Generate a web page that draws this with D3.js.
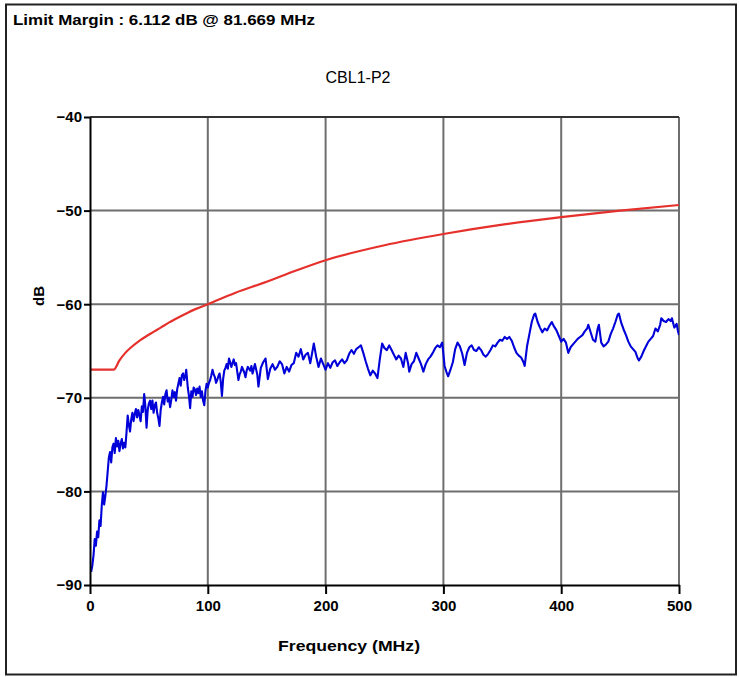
<!DOCTYPE html>
<html>
<head>
<meta charset="utf-8">
<script src="https://cdn.jsdelivr.net/npm/d3@7/dist/d3.min.js"></script>
<style>
  body { margin: 0; background: #fff; }
  svg { display: block; font-family: "Liberation Sans", Arial, sans-serif; }
</style>
</head>
<body>
<script>
const headerText = "Limit Margin : 6.112 dB @ 81.669 MHz"
const chartTitle = "CBL1-P2"
const xLabel = "Frequency (MHz)"
const yLabel = "dB"

const xTicks = [0, 100, 200, 300, 400, 500]
const yTicks = [-40, -50, -60, -70, -80, -90]

// limit line [MHz, dB]
const limitData = [[0,-67],[20,-67],[25,-66],[30,-65.2],[35,-64.6],[41,-64],[52,-63.1],[60,-62.5],[66.5,-62.0],
  [80,-61.1],[90,-60.5],[100,-60],[123,-58.8],[150,-57.6],[175,-56.4],[200,-55.3],[250,-53.7],[300,-52.5],
  [350,-51.5],[400,-50.7],[450,-50],[500,-49.4]]

// measured trace [MHz, dB]
const traceData = [[1,-88.6],[2,-87.9],[3,-86.8],[4,-85.1],[5,-85.8],[6,-84.3],[7,-84.9],[8,-83.1],[9,-83.7],[10,-81.5],
  [11,-80.1],[12,-81.4],[13,-80.5],[14,-79.4],[15,-77.9],[16,-76.4],[17,-75.8],[18,-76.9],[19,-75.3],[20,-74.9],
  [21,-75.9],[22,-74.3],[23,-75.2],[24,-74.6],[25,-75.7],[26,-74.9],[27,-74.4],[28,-75.4],[29,-74.8],[30,-75.3],
  [31,-73.7],[32,-71.9],[33,-72.9],[34,-73.6],[35,-72.3],[36,-71.6],[37,-72.5],[38,-71.7],[39,-71.2],[40,-72.1],
  [41,-71.3],[42,-71.9],[43,-72.5],[44,-70.9],[45,-71.5],[46,-69.6],[47,-70.9],[48,-73.2],[49,-71.3],[50,-70.6],
  [51,-70.3],[52,-71.2],[53,-70.3],[54,-71.6],[55,-70.8],[56,-70.5],[57,-71.6],[58,-72.2],[59,-73.0],[60,-71.3],
  [61,-70.5],[62,-69.9],[63,-70.7],[64,-69.6],[65,-69.2],[66,-70.4],[67,-70.0],[68,-71.0],[69,-70.2],[70,-69.2],
  [71,-69.9],[72,-69.4],[73,-70.3],[74,-69.1],[75,-68.5],[76,-67.9],[77,-68.7],[78,-67.6],[79,-67.4],[80,-68.1],
  [81,-67.6],[81.7,-67.0],[83,-68.9],[84,-69.8],[85,-71.1],[86,-69.3],[87,-69.9],[88,-68.9],[89,-69.1],[90,-69.7],
  [91,-69.0],[92,-69.5],[93,-68.8],[94,-69.9],[95,-69.3],[96,-70.3],[97,-70.8],[98,-69.3],[99,-68.5],
  [100,-68.9],[101,-68.4],[102,-68.1],[103,-67.6],[104,-67.0],[105,-67.5],[106,-67.8],[107,-68.4],[108,-68.1],[109,-67.7],
  [110,-67.4],[111,-68.3],[112,-69.8],[113,-68.0],[114,-67.1],[115,-66.8],[116,-66.4],[117,-66.9],[118,-65.8],[119,-66.2],
  [120,-66.7],[121,-66.3],[122,-65.9],[123,-66.5],[124,-66.3],[125,-67.2],[126,-68.1],[127,-67.5],[128,-67.2],[129,-66.7],
  [130,-67.0],[131,-67.3],[132,-67.8],[133,-67.1],[134,-66.7],[135,-66.9],[136,-67.1],[137,-66.6],[138,-67.4],[139,-66.9],
  [140,-66.4],[142,-67.5],[143,-68.8],[145,-66.8],[147,-66.2],[149,-65.8],[151,-68.0],[153,-66.9],[155,-66.4],[157,-67.0],
  [159,-66.7],[161,-66.1],[163,-66.4],[165,-67.4],[167,-66.7],[169,-67.2],[171,-66.5],[173,-66.3],[175,-65.2],[177,-65.6],
  [179,-64.8],[181,-65.9],[183,-65.4],[185,-65.2],[187,-66.3],[189,-64.9],[190,-64.2],[192,-65.6],[194,-66.7],[196,-65.8],
  [198,-66.4],[200,-67.0],[202,-66.3],[204,-66.8],[206,-66.2],[208,-66.0],[210,-66.6],[212,-66.2],[214,-65.9],[216,-66.3],
  [218,-66.0],[220,-65.3],[222,-64.9],[224,-65.3],[226,-64.8],[228,-64.6],[230,-64.4],[232,-65.2],[234,-66.1],[236,-66.9],
  [238,-67.6],[240,-67.1],[242,-67.4],[244,-67.9],[246,-65.9],[248,-64.2],[250,-64.7],[252,-64.9],[254,-64.4],[256,-64.9],
  [258,-65.4],[260,-65.9],[262,-65.5],[264,-65.8],[266,-66.7],[268,-65.2],[270,-66.3],[271,-67.2],[273,-66.4],[275,-66.1],
  [277,-65.2],[279,-65.8],[281,-66.4],[283,-67.2],[285,-66.4],[287,-65.9],[289,-65.6],[291,-65.2],[293,-64.7],[295,-64.4],
  [297,-64.6],[299,-64.1],[301,-66.6],[303,-67.4],[304,-67.7],[306,-67.0],[308,-66.2],[310,-64.8],[312,-64.1],[314,-64.5],
  [316,-65.3],[318,-66.5],[320,-65.2],[322,-64.6],[324,-64.4],[326,-64.9],[328,-65.0],[330,-64.6],[332,-64.9],[334,-65.4],
  [336,-65.6],[338,-65.3],[340,-64.9],[342,-64.4],[344,-64.5],[346,-64.1],[348,-63.8],[350,-63.9],[352,-63.5],[354,-63.7],
  [356,-63.5],[358,-63.9],[360,-64.6],[362,-65.2],[364,-65.5],[366,-65.7],[368,-66.2],[369,-66.6],[371,-64.5],[373,-63.2],
  [375,-61.9],[377,-61.1],[378,-61.0],[380,-61.9],[382,-62.5],[384,-63.0],[386,-62.6],[388,-62.8],[390,-62.3],[392,-61.9],
  [394,-62.4],[396,-62.8],[398,-63.4],[400,-64.0],[402,-63.7],[404,-64.1],[406,-65.2],[408,-64.6],[410,-64.3],[412,-64.0],
  [414,-63.7],[416,-63.5],[418,-63.3],[420,-62.9],[422,-62.6],[423,-62.2],[425,-63.0],[427,-63.8],[429,-64.0],[431,-62.6],
  [432,-62.2],[434,-64.1],[436,-64.5],[438,-64.3],[440,-64.0],[442,-63.2],[444,-62.6],[446,-61.9],[448,-61.1],[449,-61.0],
  [451,-62.0],[453,-62.7],[455,-63.3],[457,-64.0],[459,-64.5],[461,-64.8],[463,-65.1],[465,-65.8],[466,-66.0],[468,-65.6],
  [470,-65.0],[472,-64.5],[474,-64.0],[476,-63.7],[478,-63.4],[480,-62.6],[482,-62.9],[484,-62.2],[485,-61.5],[487,-61.8],
  [489,-61.9],[491,-61.6],[493,-61.8],[494,-61.5],[496,-62.5],[498,-62.1],[499,-62.8],[500,-63.3]]

const w = 739
const h = 677
const plotLeft = 90, plotRight = 679, plotTop = 117, plotBottom = 585

const svg = d3.select("body")
  .append("svg")
  .attr("width", w)
  .attr("height", h)

// outer frame
svg.append("rect")
  .attr("x", 6)
  .attr("y", 4.5)
  .attr("width", 730)
  .attr("height", 670)
  .attr("fill", "none")
  .attr("stroke", "#222")
  .attr("stroke-width", 2)

svg.append("text")
  .attr("x", 13)
  .attr("y", 25)
  .attr("font-size", 15)
  .attr("font-weight", "bold")
  .attr("textLength", 302)
  .attr("lengthAdjust", "spacingAndGlyphs")
  .text(headerText)

svg.append("text")
  .attr("x", 358)
  .attr("y", 83)
  .attr("text-anchor", "middle")
  .attr("font-size", 16)
  .text(chartTitle)

const xScale = d3.scaleLinear()
  .domain([0, 500])
  .range([plotLeft, plotRight])

const yScale = d3.scaleLinear()
  .domain([-90, -40])
  .range([plotBottom, plotTop])

// grid
svg.append("g")
  .selectAll("line")
  .data(xTicks.filter(d => d > 0))
  .enter()
  .append("line")
  .attr("x1", d => xScale(d))
  .attr("x2", d => xScale(d))
  .attr("y1", plotTop)
  .attr("y2", plotBottom)
  .attr("stroke", "#6e6e6e")
  .attr("stroke-width", 2)

svg.append("g")
  .selectAll("line")
  .data(yTicks.filter(d => d > -90))
  .enter()
  .append("line")
  .attr("x1", plotLeft)
  .attr("x2", plotRight)
  .attr("y1", d => yScale(d))
  .attr("y2", d => yScale(d))
  .attr("stroke", d => d == -40 ? "#333" : "#6e6e6e")
  .attr("stroke-width", 2)

svg.append("clipPath")
  .attr("id", "plot-clip")
  .append("rect")
  .attr("x", plotLeft)
  .attr("y", plotTop)
  .attr("width", plotRight - plotLeft)
  .attr("height", plotBottom - plotTop)

const limitLine = d3.line()
  .x(d => xScale(d[0]))
  .y(d => yScale(d[1]))
  .curve(d3.curveMonotoneX)

const traceLine = d3.line()
  .x(d => xScale(d[0]))
  .y(d => yScale(d[1]))

svg.append("path")
  .datum(limitData)
  .attr("clip-path", "url(#plot-clip)")
  .attr("d", limitLine)
  .attr("fill", "none")
  .attr("stroke", "#e5302c")
  .attr("stroke-width", 2.2)

svg.append("path")
  .datum(traceData)
  .attr("clip-path", "url(#plot-clip)")
  .attr("d", traceLine)
  .attr("fill", "none")
  .attr("stroke", "#0000d8")
  .attr("stroke-width", 2.1)
  .attr("stroke-linejoin", "round")

const yAxis = d3.axisLeft(yScale).tickValues(yTicks).tickSize(6).tickSizeOuter(0).tickPadding(2)
const xAxis = d3.axisBottom(xScale).tickValues(xTicks).tickSize(9).tickSizeOuter(0).tickPadding(6)

const gy = svg.append("g")
  .attr("transform", "translate(" + plotLeft + ",0)")
  .call(yAxis)

const gx = svg.append("g")
  .attr("transform", "translate(0," + plotBottom + ")")
  .call(xAxis)

;[gx, gy].forEach(g => {
  g.selectAll("path.domain").attr("stroke", "#000").attr("stroke-width", 2)
  g.selectAll(".tick line").attr("stroke", "#000").attr("stroke-width", 2)
  g.selectAll(".tick text")
    .attr("fill", "#000")
    .attr("font-size", 15)
    .attr("font-weight", "bold")
    .attr("font-family", "Liberation Sans, Arial, sans-serif")
})

svg.append("text")
  .attr("x", 349)
  .attr("y", 651)
  .attr("text-anchor", "middle")
  .attr("font-size", 15)
  .attr("font-weight", "bold")
  .attr("textLength", 142)
  .attr("lengthAdjust", "spacingAndGlyphs")
  .text(xLabel)

svg.append("text")
  .attr("transform", "translate(44,296) rotate(-90)")
  .attr("text-anchor", "middle")
  .attr("font-size", 15)
  .attr("font-weight", "bold")
  .text(yLabel)
</script>
</body>
</html>
